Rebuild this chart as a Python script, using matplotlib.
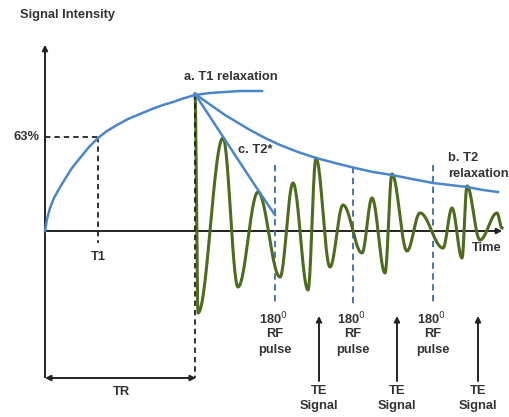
import numpy as np
import matplotlib
matplotlib.use("Agg")
import matplotlib.pyplot as plt

# picture coordinates: x to the right, y downwards (pixels of the reference)
t1_curve_x = [45, 47, 50, 54, 59, 65, 72, 80, 89, 98, 107, 117, 128, 140, 152,
              163, 173, 183, 195, 210, 225, 240, 262]
t1_curve_y = [231, 219, 208, 198, 189, 179, 168, 158, 147, 138, 131, 125, 119,
              114, 109, 105, 102, 98.5, 95, 93, 92, 91, 91]

t2_curve_x = [195, 205, 215, 225, 235, 250, 265, 280, 298, 316, 335, 355, 373, 392,
              412, 433, 450, 467, 483, 498]
t2_curve_y = [94, 101, 108, 115, 121, 130, 138, 145, 152, 158, 163, 168, 172, 175,
              179, 183, 185, 187, 190, 192]

t2star_x = [195, 235, 258, 275]
t2star_y = [94, 155, 190, 215]

# extrema of the precessing signal
wave_x = [195, 198, 223, 238, 258, 280, 293, 308, 316, 330, 343, 362, 372, 385,
          392, 407, 420, 443, 452, 462, 467, 480, 497, 502]
wave_y = [94, 313, 138, 287, 192, 277, 183, 290, 158, 267, 205, 253, 198, 273,
          174, 251, 213, 248, 208, 258, 186, 240, 213, 228]

rf_pulse_x = [275, 353, 433]
rf_pulse_top = [165, 167, 165]
te_signal_x = [319, 397, 478]

blue = "#4a86c8"
green = "#4e6b1e"
dark = "#222222"
text_col = "#333333"


def wave_path(xs, ys, n=30):
    # half-cosine segments between successive extrema
    px, py = [], []
    for i in range(len(xs) - 1):
        s = np.linspace(0, 1, n)
        k = (1 - np.cos(np.pi * s)) / 2
        px.extend(xs[i] + (xs[i + 1] - xs[i]) * s)
        py.extend(ys[i] + (ys[i + 1] - ys[i]) * k)
    return px, py


fig = plt.figure(figsize=(5.09, 4.17), dpi=100)
ax = fig.add_axes([0, 0, 1, 1])
ax.set_xlim(0, 509)
ax.set_ylim(417, 0)
ax.axis("off")

font = dict(family="Liberation Sans", weight="bold", color=text_col, fontsize=9.3)

# axes
ax.plot([45, 45], [378, 50], color=dark, lw=1.4, solid_capstyle="butt")
ax.annotate("", xy=(45, 42), xytext=(45, 55),
            arrowprops=dict(arrowstyle="-|>", color=dark, lw=1.4, mutation_scale=8))
ax.plot([45, 497], [231, 231], color=dark, lw=1.4)
ax.annotate("", xy=(505, 231), xytext=(492, 231),
            arrowprops=dict(arrowstyle="-|>", color=dark, lw=1.4, mutation_scale=8))
ax.text(20, 15, "Signal Intensity", ha="left", va="center", **font)
ax.text(472, 248, "Time", ha="left", va="center", **font)

# T1 construction
dash = (0, (3, 2.2))
ax.plot([45, 98], [137, 137], color=dark, lw=1.3, linestyle=dash)
ax.plot([98, 98], [137, 243], color=dark, lw=1.3, linestyle=dash)
ax.text(40, 137, "63%", ha="right", va="center", **font)
ax.text(98, 257, "T1", ha="center", va="center", **font)

# TR
ax.plot([195, 195], [94, 378], color=dark, lw=1.3, linestyle=dash, zorder=4)
ax.annotate("", xy=(45, 378), xytext=(196, 378),
            arrowprops=dict(arrowstyle="<|-|>", color=dark, lw=1.4, mutation_scale=8,
                            shrinkA=0, shrinkB=0))
ax.text(121, 392, "TR", ha="center", va="center", **font)

# signal
wx, wy = wave_path(wave_x, wave_y)
ax.plot(wx, wy, color=green, lw=2.2, zorder=3)

# relaxation curves
ax.plot(t1_curve_x, t1_curve_y, color=blue, lw=1.8, zorder=5)
ax.plot(t2_curve_x, t2_curve_y, color=blue, lw=1.8, zorder=5)
ax.plot(t2star_x, t2star_y, color=blue, lw=1.8, zorder=5)
ax.text(184, 77, "a. T1 relaxation", ha="left", va="center", **font)
ax.text(238, 150, "c. T2*", ha="left", va="center", **font)
ax.text(448, 158, "b. T2", ha="left", va="center", **font)
ax.text(448, 174, "relaxation", ha="left", va="center", **font)

# 180 RF pulses
for x, top in zip(rf_pulse_x, rf_pulse_top):
    ax.plot([x, x], [top, 305], color="#3d6aa8", lw=1.3, linestyle=(0, (3.5, 2.5)), zorder=2)
    ax.text(x - 2, 319, "180$^{0}$", ha="center", va="center", **font)
    ax.text(x, 334, "RF", ha="center", va="center", **font)
    ax.text(x, 350, "pulse", ha="center", va="center", **font)

# TE signals
for x in te_signal_x:
    ax.annotate("", xy=(x, 316), xytext=(x, 381),
                arrowprops=dict(arrowstyle="-|>", color=dark, lw=1.4, mutation_scale=8,
                                shrinkA=0, shrinkB=0))
    ax.text(x, 391, "TE", ha="center", va="center", **font)
    ax.text(x, 406, "Signal", ha="center", va="center", **font)

fig.savefig("out.png", dpi=100, facecolor="white")
